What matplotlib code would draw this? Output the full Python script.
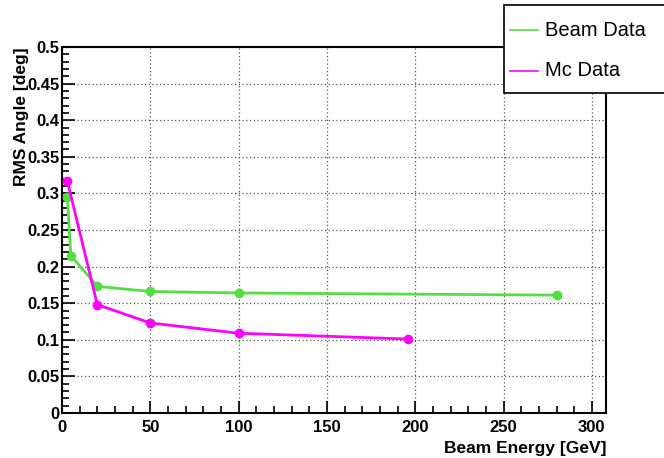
import matplotlib.pyplot as plt
from matplotlib.lines import Line2D
from matplotlib.patches import Rectangle
from matplotlib.ticker import MultipleLocator

beam_e = [3, 5, 20, 50, 100, 280]
beam_rms = [0.295, 0.215, 0.173, 0.166, 0.164, 0.161]
mc_e = [3, 20, 50, 100, 196]
mc_rms = [0.317, 0.148, 0.123, 0.109, 0.101]

green = '#55dd44'
magenta = '#ff00ff'

plt.rcParams['font.family'] = ['Liberation Sans', 'DejaVu Sans']

W, H = 664, 458
fig = plt.figure(figsize=(W / 100, H / 100), dpi=100)
ax = fig.add_axes([62 / W, 1 - 413 / H, (606 - 62) / W, (413 - 47) / H])

ax.plot(beam_e, beam_rms, color=green, lw=2, marker='o', ms=6, zorder=3)
ax.plot(mc_e, mc_rms, color=magenta, lw=2, marker='o', ms=6, zorder=4)

ax.set_xlim(0, 308)
ax.set_ylim(0, 0.5)
ax.xaxis.set_major_locator(MultipleLocator(50))
ax.xaxis.set_minor_locator(MultipleLocator(10))
ax.yaxis.set_major_locator(MultipleLocator(0.05))
ax.yaxis.set_minor_locator(MultipleLocator(0.01))
ax.yaxis.set_major_formatter(plt.FuncFormatter(lambda v, p: ('%g' % round(v, 3))))
ax.tick_params(which='both', direction='in', width=1.2, labelsize=12)
ax.tick_params(axis='x', pad=5)
ax.tick_params(axis='y', pad=2)
ax.tick_params(which='major', length=9)
ax.tick_params(which='minor', length=5)
for lab in ax.get_xticklabels() + ax.get_yticklabels():
    lab.set_fontweight('bold')
for s in ax.spines.values():
    s.set_linewidth(1.5)
ax.grid(True, which='major', color='#555555', ls=(0, (1, 2)), lw=0.9)

ax.set_xlabel('Beam Energy [GeV]', fontsize=12.5, fontweight='bold', loc='right', labelpad=4)
ax.set_ylabel('RMS Angle [deg]', fontsize=12.5, fontweight='bold', loc='top')
ax.yaxis.set_label_coords(-33 / (606 - 62), 1.0)

# legend box in the top right corner
fig.add_artist(Rectangle((504 / W, 1 - 93 / H), 200 / W, 88 / H, transform=fig.transFigure,
                         facecolor='white', edgecolor='black', lw=1.2, zorder=10))
for name, col, yy in [('Beam Data', green, 30), ('Mc Data', magenta, 71)]:
    fig.add_artist(Line2D([510 / W, 538 / W], [1 - yy / H] * 2, color=col, lw=1.2,
                          transform=fig.transFigure, zorder=11))
    fig.text(545 / W, 1 - yy / H, name, fontsize=14.5, va='center', ha='left', zorder=11)

fig.savefig('out.png', dpi=100)
